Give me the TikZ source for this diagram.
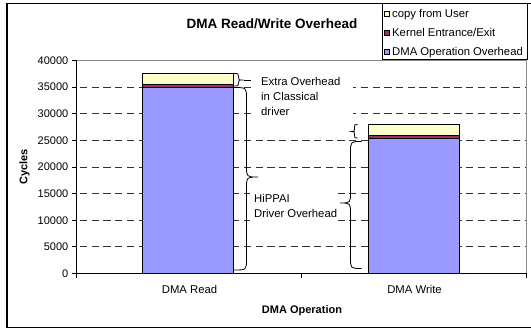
\documentclass[tikz,border=0pt]{standalone}
\usepackage{fontspec}
\setmainfont{Liberation Sans}
\definecolor{dmablue}{HTML}{9999FF}
\definecolor{kernelred}{HTML}{993366}
\definecolor{copyyellow}{HTML}{FFFFCC}
% curly brace: #1 end x, #2 stem x, #3 tip x, #4 top y, #5 bottom y, #6 tip y, #7 bend radius
\newcommand{\curlybrace}[7]{%
  \draw[bracestroke] (#1,#4) .. controls (#2,#4) .. ({#2},{#4+#7})
    -- ({#2},{#6-#7}) .. controls (#2,#6) .. (#3,#6)
    .. controls (#2,#6) .. ({#2},{#6+#7})
    -- ({#2},{#5-#7}) .. controls (#2,#5) .. (#1,#5);}
\begin{document}
\begin{tikzpicture}[x=1bp, y=-1bp,
  txt/.style={font=\fontsize{11.3bp}{13bp}\selectfont, inner sep=0pt},
  boldtxt/.style={font=\bfseries\fontsize{11bp}{13bp}\selectfont, inner sep=0pt},
  gridline/.style={draw=black!80, line width=0.9bp, dash pattern=on 7.3bp off 4.4bp, dash phase=8.4bp},
  segment/.style={draw=black, line width=0.8bp},
  bracestroke/.style={draw=black, line width=0.8bp},
  vals/.style={shift={(0,273.5)}, y=5.325bp}]

\useasboundingbox (0,0) rectangle (531,331);
\fill[white] (0,0) rectangle (531,331);
% chart frame
\draw[line width=1.2bp] (7,3.5) rectangle (540,327.5);

% plot area border
\draw[black!45, line width=0.9bp] (76.7,60.5) -- (526,60.5) -- (526,273.5);

\begin{scope}[vals]
  % horizontal gridlines
  \foreach \v in {5,10,...,35} \draw[gridline] (76.7,\v) -- (526,\v);
  % DMA Read stack
  \filldraw[segment, fill=dmablue] (142.7,0) rectangle (233.3,35);
  \filldraw[segment, fill=kernelred] (142.7,35) rectangle (233.3,35.5);
  \filldraw[segment, fill=copyyellow] (142.7,35.5) rectangle (233.3,37.6);
  % DMA Write stack
  \filldraw[segment, fill=dmablue] (368.3,0) rectangle (459,25.4);
  \filldraw[segment, fill=kernelred] (368.3,25.4) rectangle (459,25.9);
  \filldraw[segment, fill=copyyellow] (368.3,25.9) rectangle (459,28);
  % value axis ticks and labels
  \foreach \v/\t in {0/0,5/5000,10/10000,15/15000,20/20000,25/25000,30/30000,35/35000,40/40000} {
    \draw[line width=0.9bp] (72,\v) -- (76.7,\v);
    \node[txt, font=\fontsize{11bp}{13bp}\selectfont, anchor=east] (ylab\v) at (68.5,\v) {\t};
  }
\end{scope}

% axes
\draw[line width=1bp] (76.7,60.5) -- (76.7,277.5);
\draw[line width=1bp] (76.7,273.5) -- (526.5,273.5);
\draw[line width=0.9bp] (301,273.5) -- (301,277.5);
\draw[line width=0.9bp] (526,273.5) -- (526,277.5);

% annotation text boxes
\fill[white] (253,72) rectangle (353,121);
\node[txt, anchor=base west] (eo1) at (261,85.7) {Extra Overhead};
\node[txt, anchor=base west] (eo2) at (261,100.7) {in Classical};
\node[txt, anchor=base west] (eo3) at (261,115.7) {driver};
\fill[white] (250,182) rectangle (338,236);
\node[txt, anchor=base west] (hp1) at (254,202) {HiPPAI};
\node[txt, anchor=base west] (hp2) at (254,217) {Driver Overhead};

% braces
\curlybrace{233.5}{238.5}{243.5}{73.5}{86}{80}{3}
\draw[bracestroke] (243.5,80) -- (251,80);
\curlybrace{233.5}{246.5}{258}{87.5}{270}{177}{11}
\curlybrace{357.5}{354.5}{351.5}{124.5}{138}{131.5}{3}
\curlybrace{361.5}{350.5}{340}{141.5}{268.5}{203}{11}

% legend
\filldraw[fill=white, draw=black, line width=1bp] (382.5,3.5) rectangle (527.5,59.5);
\filldraw[segment, fill=copyyellow] (384.5,11) rectangle (389.5,16);
\filldraw[segment, fill=kernelred] (384.5,30) rectangle (389.5,35);
\filldraw[segment, fill=dmablue] (384.5,49) rectangle (389.5,54);
\node[txt, anchor=base west] (lg1) at (392,17.5) {copy from User};
\node[txt, anchor=base west] (lg2) at (392,36.5) {Kernel Entrance/Exit};
\node[txt, anchor=base west] (lg3) at (392,55.5) {DMA Operation Overhead};

% titles
\node[inner sep=0pt, font=\bfseries\fontsize{13.5bp}{16bp}\selectfont, anchor=base] (title) at (272,28) {DMA Read/Write Overhead};
\node[boldtxt, rotate=90] (ylabel) at (24.5,167) {Cycles};
\node[txt, anchor=base] (xread) at (189.5,293) {DMA Read};
\node[txt, anchor=base] (xwrite) at (414.5,293.5) {DMA Write};
\node[boldtxt, anchor=base] (xtitle) at (302,313) {DMA Operation};
\end{tikzpicture}
\end{document}
